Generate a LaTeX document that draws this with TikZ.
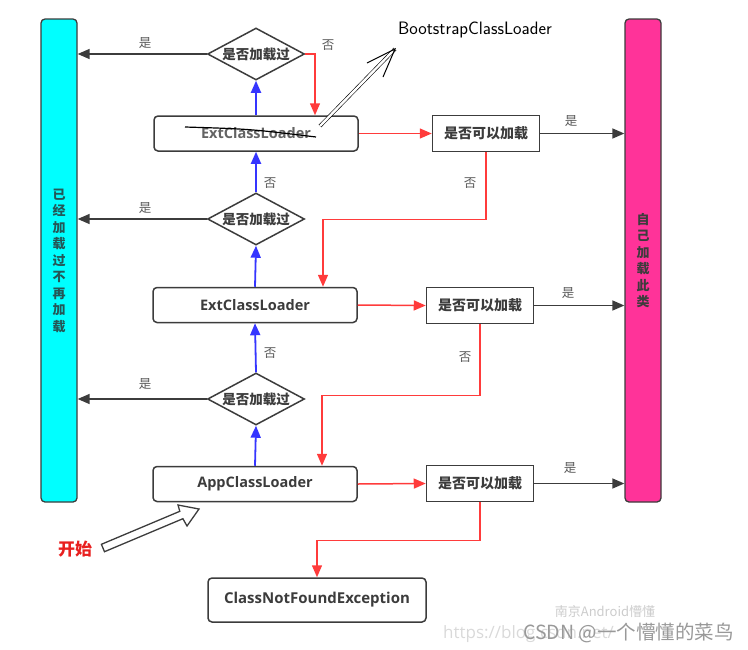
\documentclass[tikz,border=0pt]{standalone}
\usepackage{fontspec}
\setmainfont{Open Sans}
\newfontfamily\cjk{Noto Sans CJK SC}
\usetikzlibrary{shapes.geometric,arrows.meta}
\definecolor{cyanbar}{HTML}{00FFFF}
\definecolor{pinkbar}{HTML}{FF3399}
\definecolor{edge}{HTML}{3C3C3C}
\definecolor{redl}{HTML}{FF3B3B}
\definecolor{bluel}{HTML}{3535FF}
\definecolor{startred}{HTML}{E8201F}
\tikzset{
  loader/.style={draw=edge, line width=1.5pt, rounded corners=4pt, fill=white,
    minimum width=204pt, minimum height=35pt, inner sep=0pt,
    font=\bfseries\fontsize{14.5}{16}\selectfont, text=edge},
  check/.style={draw=edge, line width=1.5pt, fill=white, minimum width=107pt,
    minimum height=36pt, inner sep=0pt, font=\cjk\bfseries\fontsize{14}{16}\selectfont, text=edge},
  diam/.style={diamond, aspect=1.87, draw=edge, line width=1.5pt, fill=white, minimum width=97pt,
    minimum height=52pt, inner sep=0pt, font=\cjk\bfseries\fontsize{13.5}{15}\selectfont, text=edge},
  bar/.style={draw=edge, line width=1.3pt, rounded corners=4pt, minimum width=36pt,
    minimum height=483pt, inner sep=0pt, align=center,
    font=\cjk\bfseries\fontsize{13}{16.5}\selectfont},
  lab/.style={font=\cjk\fontsize{12.5}{14}\selectfont, text=edge!85, inner sep=0pt},
  blkarr/.style={draw=edge, line width=1.5pt, -{Triangle[length=12pt,width=10pt]}},
  redarr/.style={draw=redl, line width=1.5pt, -{Triangle[length=12pt,width=10pt]}},
  bluearr/.style={draw=bluel, line width=1.8pt, -{Triangle[length=12pt,width=10pt]}},
}
\begin{document}
\begin{tikzpicture}[x=1pt,y=-1pt]
\useasboundingbox (0,0) rectangle (748,649);
% bars
\node[bar, fill=cyanbar, text=edge!60!teal] (cyan) at (59,260.5) {已\\经\\加\\载\\过\\不\\再\\加\\载};
\node[bar, fill=pinkbar, text=edge] (pink) at (643,260.5) {自\\己\\加\\载\\此\\类};
% diamonds
\node[diam] (d1) at (256,54) {是否加载过};
\node[diam] (d2) at (256,219) {是否加载过};
\node[diam] (d3) at (256,399) {是否加载过};
% loaders
\node[loader, text=edge!80] (boot) at (256,133.5) {ExtClassLoader};
\node[loader] (ext) at (255,305) {ExtClassLoader};
\node[loader] (app) at (255,484) {AppClassLoader};
\node[loader, minimum width=218pt, minimum height=44pt, font=\bfseries\fontsize{15}{17}\selectfont] (cnf) at (317,600) {ClassNotFoundException};
% checks
\node[check] (c1) at (486,133.5) {是否可以加载};
\node[check] (c2) at (480,305.5) {是否可以加载};
\node[check] (c3) at (480,483.5) {是否可以加载};
% strike-through and bootstrap note
\draw[black, line width=1.2pt] (185,127) .. controls (250,129) .. (316,137);
\node[font=\sffamily\fontsize{18}{20}\selectfont, text=black, inner sep=0pt] (bsl) at (475,30) {BootstrapClassLoader};
\coordinate (ba) at (320,126);
\coordinate (bt) at (395,49);
\draw[black, line width=0.6pt, double distance=2.4pt] (ba) -- (bt);
\draw[black, line width=1pt] (367,63) -- (bt) -- (383,77);
% blue (delegate upward)
\draw[bluearr] (boot.north) -- (d1.south);
\draw[bluearr] (d2.north) -- (boot.south);
\draw[bluearr] (ext.north) -- (d2.south);
\draw[bluearr] (d3.north) -- (ext.south);
\draw[bluearr] (app.north) -- (d3.south);
\node[lab] at (270,183) {否};
\node[lab] at (270,353) {否};
% already loaded
\draw[blkarr] (d1.west) -- (d1.west -| cyan.east);
\draw[blkarr] (d2.west) -- (d2.west -| cyan.east);
\draw[blkarr] (d3.west) -- (d3.west -| cyan.east);
\node[lab] at (145,43) {是};
\node[lab] at (145,208) {是};
\node[lab] at (145,384) {是};
% red flow
\draw[redarr] (d1.east) -| ([xshift=59pt]boot.north);
\node[lab] at (328,45) {否};
\draw[redarr] (boot.east) -- (c1.west);
\draw[redarr] (ext.east) -- (c2.west);
\draw[redarr] (app.east) -- (c3.west);
\draw[redarr] (c1.south) -- ++(0,67) -| ([xshift=68pt]ext.north);
\draw[redarr] (c2.south) -- ++(0,71) -| ([xshift=67pt]app.north);
\draw[redarr] (c3.south) -- ++(0,38) -| (cnf.north);
\node[lab] at (470,183) {否};
\node[lab] at (465,357) {否};
% load self
\draw[blkarr] (c1.east) -- (c1.east -| pink.west);
\draw[blkarr] (c2.east) -- (c2.east -| pink.west);
\draw[blkarr] (c3.east) -- (c3.east -| pink.west);
\node[lab] at (571,121) {是};
\node[lab] at (568,293) {是};
\node[lab] at (570,468) {是};
% start
\node[font=\cjk\bfseries\fontsize{17}{19}\selectfont, text=startred, inner sep=0pt] (start) at (75,549) {开始};
\draw[edge, line width=1.3pt, fill=white, line join=miter]
  (104.5,551.7) -- (182.9,518.7) -- (187,526) -- (199,509) -- (178,505) -- (179.8,511.3) -- (101.4,544.3) -- cycle;
% watermark
\node[font=\fontsize{17}{19}\selectfont, text=gray!30, anchor=west, inner sep=0pt] (wm1) at (443,634) {https://blog.csdn.net/};
\node[font=\cjk\fontsize{13}{15}\selectfont, text=gray!40, inner sep=0pt] (wm2) at (605,612) {南京Android懵懂};
\node[font=\cjk\fontsize{19.5}{21}\selectfont, text=gray!80, anchor=east, inner sep=0pt] (wm3) at (734,633) {CSDN @一个懵懂的菜鸟};
\end{tikzpicture}
\end{document}
